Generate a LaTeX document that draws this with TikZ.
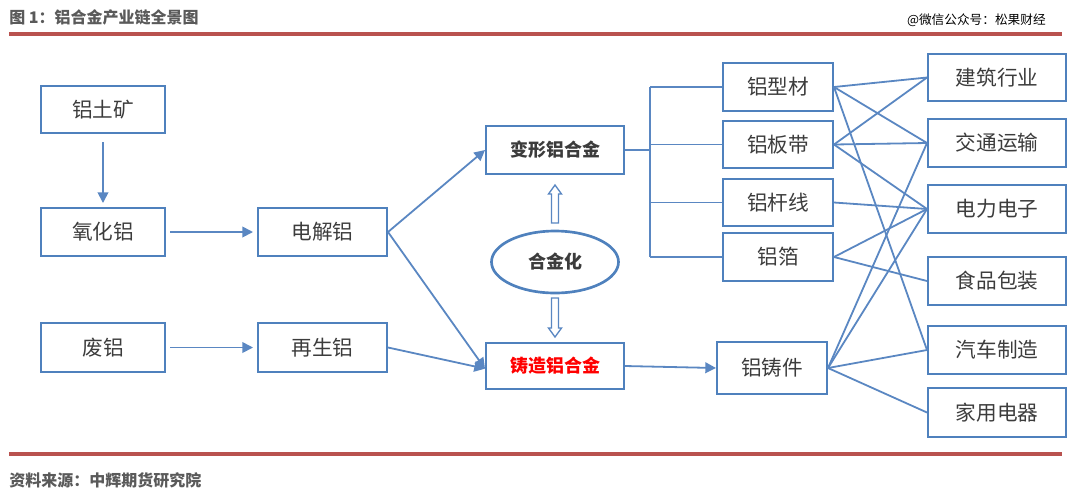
\documentclass[tikz,border=0pt]{standalone}
\usepackage{fontspec}
\setmainfont{Noto Sans CJK SC}
\usetikzlibrary{arrows.meta,shapes.geometric,calc}
\definecolor{bblue}{HTML}{4F81BD}
\definecolor{lblue}{HTML}{5A87C2}
\definecolor{txt}{HTML}{3C3C3C}
\definecolor{redline}{HTML}{B9524F}
\definecolor{ttl}{HTML}{5A5A5A}
\tikzset{
  box/.style={draw=bblue, line width=1.5pt, inner sep=0pt, text=txt,
    font=\fontsize{15.5}{18}\selectfont},
  boxb/.style={box, font=\fontsize{13.5}{16}\selectfont\bfseries},
  conn/.style={draw=lblue, line width=1.35pt},
  arr/.style={conn, -{Triangle[length=8pt,width=8pt]}},
  hollow/.style={draw=lblue, line width=1pt, fill=white, line join=miter}
}
\begin{document}
\begin{tikzpicture}[x=0.75pt,y=-0.75pt]
\useasboundingbox (0,0) rectangle (1080,494);
% header / footer
\node[anchor=west, inner sep=0pt, text=ttl, font=\fontsize{12}{14}\selectfont\bfseries] (title) at (9,17) {图 1：铝合金产业链全景图};
\node[anchor=east, inner sep=0pt, text=black, font=\fontsize{9.5}{11}\selectfont] (wm) at (1046,20) {@微信公众号：松果财经};
\draw[redline, line width=2.6pt] (9,34) -- (1062,34);
\draw[redline, line width=2.6pt] (9,454) -- (1062,454);
\node[anchor=west, inner sep=0pt, text=ttl, font=\fontsize{12}{14}\selectfont\bfseries] (src) at (9,480) {资料来源：中辉期货研究院};

% left boxes
\node[box, minimum width=124*0.75pt, minimum height=47*0.75pt] (tu) at (103,109.5) {铝土矿};
\node[box, minimum width=124*0.75pt, minimum height=48*0.75pt] (yh) at (103,232) {氧化铝};
\node[box, minimum width=124*0.75pt, minimum height=49*0.75pt] (fl) at (103,347.5) {废铝};
\node[box, minimum width=129*0.75pt, minimum height=48*0.75pt] (dj) at (322.5,232) {电解铝};
\node[box, minimum width=129*0.75pt, minimum height=49*0.75pt] (zs) at (322.5,347.5) {再生铝};
% alloy boxes
\node[boxb, minimum width=138*0.75pt, minimum height=48*0.75pt] (bx) at (555,150) {变形铝合金};
\node[boxb, text=red, minimum width=138*0.75pt, minimum height=46*0.75pt] (zz) at (555,366) {铸造铝合金};
\node[draw=bblue, line width=2pt, ellipse, inner sep=0pt, minimum width=127*0.75pt, minimum height=62*0.75pt, text=txt, font=\fontsize{13.5}{16}\selectfont\bfseries] (hj) at (555,262) {合金化};
% products
\node[box, minimum width=110*0.75pt, minimum height=48*0.75pt] (xc) at (778,87) {铝型材};
\node[box, minimum width=110*0.75pt, minimum height=47*0.75pt] (bd) at (778,144.5) {铝板带};
\node[box, minimum width=110*0.75pt, minimum height=47*0.75pt] (gx) at (778,202.5) {铝杆线};
\node[box, minimum width=110*0.75pt, minimum height=48*0.75pt] (bo) at (778,257) {铝箔};
\node[box, minimum width=110*0.75pt, minimum height=52*0.75pt] (zj) at (772,368) {铝铸件};
% industries
\node[box, minimum width=138*0.75pt, minimum height=47*0.75pt] (jz) at (997,77.5) {建筑行业};
\node[box, minimum width=138*0.75pt, minimum height=48*0.75pt] (jt) at (997,143) {交通运输};
\node[box, minimum width=138*0.75pt, minimum height=48*0.75pt] (dl) at (997,209) {电力电子};
\node[box, minimum width=138*0.75pt, minimum height=48*0.75pt] (sp) at (997,281) {食品包装};
\node[box, minimum width=138*0.75pt, minimum height=48*0.75pt] (qc) at (997,350) {汽车制造};
\node[box, minimum width=138*0.75pt, minimum height=49*0.75pt] (jd) at (997,412.5) {家用电器};

% arrows left part
\draw[arr, shorten <=6pt, shorten >=3pt] (tu) -- (yh);
\draw[arr, shorten <=3pt, shorten >=3pt] (yh) -- (dj);
\draw[arr, shorten <=3pt, shorten >=3pt] (fl) -- (zs);
\draw[arr] (dj.east) -- (bx.west);
\draw[arr] (dj.east) -- ([yshift=-2pt]zz.west);
\draw[arr] (zs.east) -- ([yshift=-2pt]zz.west);
\draw[arr] (zz.east) -- (zj.west);

% hollow arrows
\draw[hollow] (551.5,223) -- (551.5,194) -- (548.5,194) -- (555,185) -- (561.5,194) -- (558.5,194) -- (558.5,223) -- cycle;
\draw[hollow] (551.5,298) -- (551.5,328) -- (548.5,328) -- (555,337) -- (561.5,328) -- (558.5,328) -- (558.5,298) -- cycle;

% bracket
\coordinate (bus) at (650,150);
\draw[conn] (bx.east) -- (bus);
\draw[conn] (bus |- xc.west) -- (bus |- bo.west);
\draw[conn] (bus |- xc.west) -- (xc.west);
\draw[conn] (bus |- bd.west) -- (bd.west);
\draw[conn] (bus |- gx.west) -- (gx.west);
\draw[conn] (bus |- bo.west) -- (bo.west);

% product to industry
\draw[conn] (xc.east) -- (jz.west);
\draw[conn] (xc.east) -- (jt.west);
\draw[conn] (xc.east) -- (qc.west);
\draw[conn] (bd.east) -- (jz.west);
\draw[conn] (bd.east) -- (jt.west);
\draw[conn] (bd.east) -- (dl.west);
\draw[conn] (gx.east) -- (dl.west);
\draw[conn] (bo.east) -- (dl.west);
\draw[conn] (bo.east) -- (sp.west);
\draw[conn] (zj.east) -- (jt.west);
\draw[conn] (zj.east) -- (dl.west);
\draw[conn] (zj.east) -- (qc.west);
\draw[conn] (zj.east) -- (jd.west);
\end{tikzpicture}
\end{document}
